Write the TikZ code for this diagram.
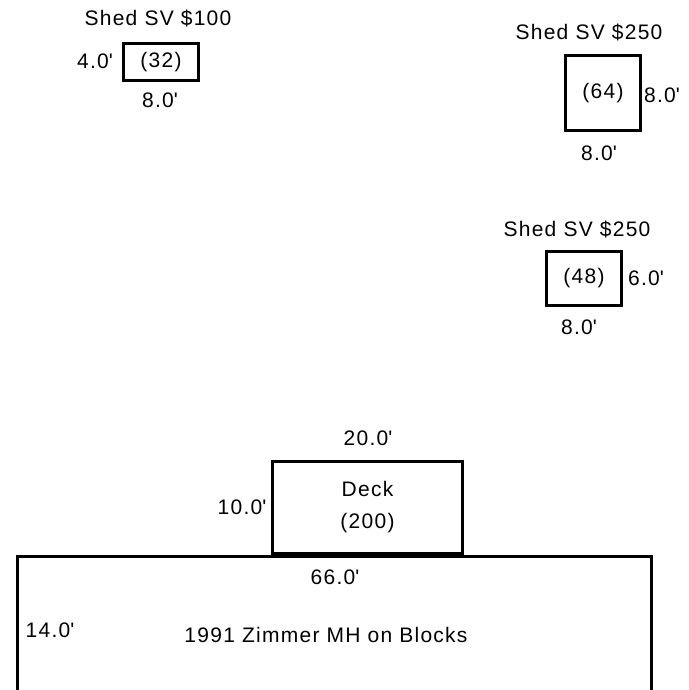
\documentclass[tikz,border=0pt]{standalone}
\usepackage{fontspec}
\setmainfont[LetterSpace=6]{Liberation Sans}
\usetikzlibrary{positioning}
\newcommand{\ft}{\textquotesingle}
\tikzset{
	plotnode/.style={
			rectangle,
			draw=black,
			line width=3pt,
			fill=white,
			inner sep=0pt,
			font=\fontsize{21}{32}\selectfont
		},
	dimnode/.style={
			inner sep=0pt,
			text=black,
			font=\fontsize{21}{24}\selectfont
		}
}

\begin{document}
\begin{tikzpicture}[x=1pt, y=-1pt]
\useasboundingbox (0,0) rectangle (688,690);

% sheds
\node[plotnode, minimum width=75pt, minimum height=37pt] (shedA) at (161,62) {(32)};
\node[plotnode, minimum width=75pt, minimum height=75pt] (shedB) at (603,93) {(64)};
\node[plotnode, minimum width=75pt, minimum height=54pt] (shedC) at (584,278.5) {(48)};

\node[dimnode] (titleA) at (158,18)  {Shed SV \$100};
\node[dimnode] (sideA) at (95,61)    {4.0\ft};
\node[dimnode] (baseA) at (160,100)  {8.0\ft};

\node[dimnode] (titleB) at (589,32)  {Shed SV \$250};
\node[dimnode] (sideB) at (662,95)   {8.0\ft};
\node[dimnode] (baseB) at (599,153)  {8.0\ft};

\node[dimnode] (titleC) at (577,229) {Shed SV \$250};
\node[dimnode] (sideC) at (646,278)  {6.0\ft};
\node[dimnode] (baseC) at (579,327)  {8.0\ft};

% home and deck
\node[plotnode, minimum width=634pt, minimum height=150pt] (home) at (334.5,631.5) {};
\node[plotnode, align=center, minimum width=190pt, minimum height=92pt] (deck) at (367.5,507.5) {Deck\\(200)};

\node[dimnode] (deckW) at (368,438) {20.0\ft};
\node[dimnode] (deckH) at (242,507) {10.0\ft};
\node[dimnode] (homeW) at (335,577) {66.0\ft};
\node[dimnode] (homeH) at (50,630)  {14.0\ft};
\node[dimnode] (homeL) at (326,635) {1991 Zimmer MH on Blocks};
\end{tikzpicture}
\end{document}
